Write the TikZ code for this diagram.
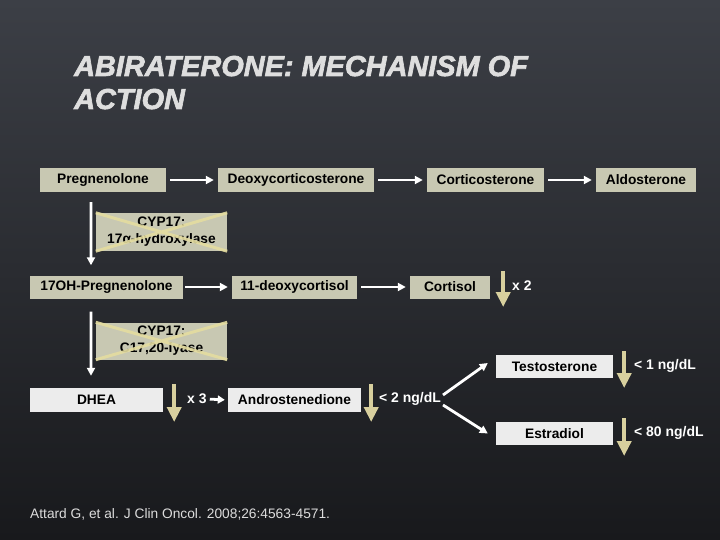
\documentclass[tikz,border=0pt]{standalone}
\usepackage{fontspec}
\setmainfont{Liberation Sans}
\newfontfamily\titlefont[FakeBold=2.2]{Liberation Sans Bold Italic}
\usetikzlibrary{arrows.meta}
\definecolor{bgtop}{RGB}{60,63,70}
\definecolor{bgbot}{RGB}{24,25,28}
\definecolor{khaki}{RGB}{200,200,178}
\definecolor{lightbox}{RGB}{236,236,236}
\definecolor{gold}{RGB}{216,208,158}
\definecolor{crossgold}{RGB}{228,220,160}
\definecolor{titlegrey}{RGB}{222,222,222}
\definecolor{citegrey}{RGB}{220,220,220}
\begin{document}
\begin{tikzpicture}[x=1bp,y=-1bp,
  boxtxt/.style={font=\fontsize{13.8}{17}\selectfont\bfseries, text=black},
  kbox/.style={rectangle, fill=khaki, inner sep=0pt, boxtxt, minimum height=23bp},
  lbox/.style={rectangle, fill=lightbox, inner sep=0pt, boxtxt, minimum height=24bp},
  lab/.style={anchor=west, inner sep=0pt, text=white, font=\fontsize{14}{16}\selectfont\bfseries},
  warrow/.style={draw=white, line width=2.8bp, -{Triangle[length=8bp,width=8bp]}},
  garrow/.style={draw=gold, line width=4bp, -{Triangle[length=15bp,width=14bp]}},
  crossline/.style={draw=crossgold, line width=3bp, opacity=0.9},
  titletxt/.style={anchor=base west, inner sep=0pt, text=titlegrey, font=\fontsize{29}{32}\titlefont}
]
\useasboundingbox (0,0) rectangle (720,540);
\shade[top color=bgtop, bottom color=bgbot] (0,0) rectangle (720,540);

% title
\node[titletxt] (t1) at (74,76) {ABIRATERONE: MECHANISM OF};
\node[titletxt] (t2) at (74,109) {ACTION};

% row 1
\node[kbox, minimum width=126bp, minimum height=24bp] (preg) at (103,180) {Pregnenolone};
\node[kbox, minimum width=156bp, minimum height=24bp] (deoxy) at (296,180) {Deoxycorticosterone};
\node[kbox, minimum width=117bp, minimum height=24bp] (cortico) at (485.5,180) {Corticosterone};
\node[kbox, minimum width=100bp, minimum height=24bp] (aldo) at (646,180) {Aldosterone};

% row 2
\node[kbox, minimum width=153bp] (ohpreg) at (106.5,287) {17OH-Pregnenolone};
\node[kbox, minimum width=125bp] (dcortisol) at (294.5,287) {11-deoxycortisol};
\node[kbox, minimum width=80bp] (cortisol) at (450,287) {Cortisol};

% enzymes
\node[kbox, minimum width=131bp, minimum height=38bp, align=center] (cyp1) at (161.5,232) {CYP17:\\17α-hydroxylase};
\node[kbox, minimum width=131bp, minimum height=37bp, align=center] (cyp2) at (161.5,341) {CYP17:\\C17,20-lyase};

% row 3
\node[lbox, minimum width=133bp] (dhea) at (96.5,400) {DHEA};
\node[lbox, minimum width=133bp] (andro) at (294.5,400) {Androstenedione};
\node[lbox, minimum width=117bp, minimum height=23bp] (testo) at (554.5,366.5) {Testosterone};
\node[lbox, minimum width=117bp, minimum height=23bp] (estra) at (554.5,433.5) {Estradiol};

% labels
\node[lab] (x2) at (512,286) {x 2};
\node[lab] (x3) at (187,399) {x 3};
\node[lab] (l2) at (379,399) {< 2 ng/dL};
\node[lab] (l1) at (634,366) {< 1 ng/dL};
\node[lab] (l80) at (634,433) {< 80 ng/dL};

% white arrows
\draw[warrow, shorten <=4bp, shorten >=4bp] (preg) -- (deoxy);
\draw[warrow, shorten <=4bp, shorten >=4bp] (deoxy) -- (cortico);
\draw[warrow, shorten <=4bp, shorten >=4bp] (cortico) -- (aldo);
\draw[warrow, shorten <=2bp, shorten >=4bp] (ohpreg) -- (dcortisol);
\draw[warrow, shorten <=4bp, shorten >=4bp] (dcortisol) -- (cortisol);
\draw[warrow] ([xshift=-12bp,yshift=-10bp]preg.south) -- ([xshift=-15.5bp,yshift=10bp]ohpreg.north);
\draw[warrow] ([xshift=-15.5bp,yshift=-13bp]ohpreg.south) -- ([xshift=-5.5bp,yshift=12bp]dhea.north);
\draw[draw=white, line width=2.8bp, -{Triangle[length=7bp,width=8bp]}, shorten <=3bp, shorten >=3bp] (x3.east) -- (andro.west);
\draw[warrow] ([yshift=4bp,xshift=2bp]l2.east) -- ([xshift=-8bp,yshift=3.5bp]testo.west);
\draw[warrow] ([yshift=-6bp,xshift=2bp]l2.east) -- ([xshift=-8bp]estra.west);

% crosses over enzymes
\draw[crossline] (cyp1.north west) -- (cyp1.south east) (cyp1.south west) -- (cyp1.north east);
\draw[crossline] (cyp2.north west) -- (cyp2.south east) (cyp2.south west) -- (cyp2.north east);

% gold down arrows
\draw[garrow] ([xshift=13bp,yshift=16bp]cortisol.east) -- ([xshift=13bp,yshift=-20bp]cortisol.east);
\draw[garrow] ([xshift=11bp,yshift=16bp]dhea.east) -- ([xshift=11bp,yshift=-22bp]dhea.east);
\draw[garrow] ([xshift=10bp,yshift=16bp]andro.east) -- ([xshift=10bp,yshift=-22bp]andro.east);
\draw[garrow] ([xshift=11bp,yshift=15.5bp]testo.east) -- ([xshift=11bp,yshift=-21.5bp]testo.east);
\draw[garrow] ([xshift=11bp,yshift=15.5bp]estra.east) -- ([xshift=11bp,yshift=-22.5bp]estra.east);

% citation
\node[anchor=base west, inner sep=0pt, text=citegrey, font=\fontsize{13.8}{15}\selectfont] (cite) at (30,518) {Attard G, et al. J Clin Oncol. 2008;26:4563-4571.};
\end{tikzpicture}
\end{document}
